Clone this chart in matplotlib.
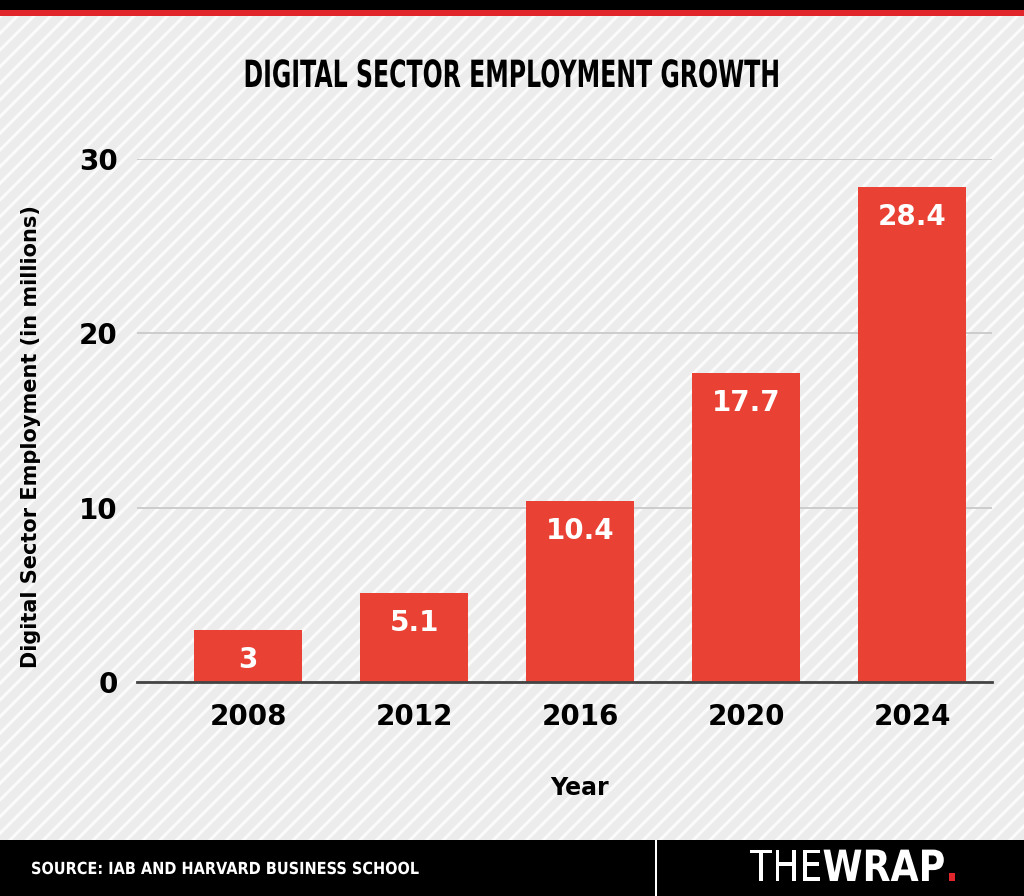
import matplotlib
matplotlib.use("Agg")
import matplotlib.pyplot as plt
from matplotlib.patches import Rectangle
from matplotlib.patheffects import AbstractPathEffect
from matplotlib.transforms import Affine2D

years = ["2008", "2012", "2016", "2020", "2024"]
employment = [3, 5.1, 10.4, 17.7, 28.4]
value_labels = ["3", "5.1", "10.4", "17.7", "28.4"]
y_ticks = [0, 10, 20, 30]

RED = "#e94235"
plt.rcParams["hatch.linewidth"] = 2.2
plt.rcParams["font.family"] = ["DejaVu Sans"]


class SqueezeX(AbstractPathEffect):
    """Narrow the glyphs horizontally around a pixel anchor (condensed look)."""

    def __init__(self, sx, cx):
        super().__init__()
        self.sx = sx
        self.cx = cx

    def draw_path(self, renderer, gc, tpath, affine, rgbFace=None):
        squeeze = Affine2D().translate(-self.cx, 0).scale(self.sx, 1).translate(self.cx, 0)
        renderer.draw_path(gc, tpath, affine + squeeze, rgbFace)


fig = plt.figure(figsize=(10.24, 8.96), dpi=100)
fig.patch.set_facecolor("#eeeeee")

# striped background
fig.add_artist(Rectangle((0, 0), 1, 1, transform=fig.transFigure,
                         facecolor="#ececec", edgecolor="#fbfbfb", hatch="//",
                         linewidth=0, zorder=0))
# top bars
fig.add_artist(Rectangle((0, 1 - 10 / 896), 1, 10 / 896, transform=fig.transFigure,
                         facecolor="black", linewidth=0, zorder=1))
fig.add_artist(Rectangle((0, 1 - 16 / 896), 1, 6 / 896, transform=fig.transFigure,
                         facecolor="#e0262b", linewidth=0, zorder=1))
# footer
fig.add_artist(Rectangle((0, 0), 1, 56 / 896, transform=fig.transFigure,
                         facecolor="black", linewidth=0, zorder=1))
fig.add_artist(Rectangle((655 / 1024, 0), 2 / 1024, 56 / 896, transform=fig.transFigure,
                         facecolor="white", linewidth=0, zorder=2))

fig.canvas.draw()

# title, condensed
title = fig.text(0.5, 1 - 77 / 896, "DIGITAL SECTOR EMPLOYMENT GROWTH", ha="center",
                 va="center", fontsize=27, fontweight="bold")
w = title.get_window_extent().width
title.set_path_effects([SqueezeX(537 / w, 512)])

src = fig.text(31 / 1024, 27 / 896, "SOURCE: IAB AND HARVARD BUSINESS SCHOOL", ha="left",
               va="center", fontsize=12, fontweight="bold", color="white", zorder=3)
w = src.get_window_extent().width
src.set_path_effects([SqueezeX(387 / w, 31)])

# logo
t1 = fig.text(750 / 1024, 27 / 896, "THE", ha="left", va="center", fontsize=31,
              fontweight="normal", color="white", zorder=3)
fig.canvas.draw()
t2 = fig.text(t1.get_window_extent().x1 / 1024, 27 / 896, "WRAP", ha="left", va="center",
              fontsize=31, fontweight="bold", color="white", zorder=3)
fig.canvas.draw()
t3 = fig.text(t2.get_window_extent().x1 / 1024, 27 / 896, ".", ha="left", va="center",
              fontsize=31, fontweight="bold", color="#e0262b", zorder=3)
fig.canvas.draw()
sx = 209 / (t3.get_window_extent().x1 - 750)
for t in (t1, t2, t3):
    t.set_path_effects([SqueezeX(sx, 750)])

ax = fig.add_axes([137 / 1024, 1 - 682 / 896, 855 / 1024, (682 - 159) / 896])
ax.set_facecolor("none")
x = range(len(years))
bars = ax.bar(x, employment, width=0.65, color=RED, zorder=3)
for rect, lab in zip(bars, value_labels):
    ax.annotate(lab, (rect.get_x() + rect.get_width() / 2, rect.get_height()),
                xytext=(0, -21.5), textcoords="offset points", ha="center", va="center",
                color="white", fontsize=20, fontweight="bold", zorder=4)

ax.set_xlim(-0.67, 4.48)
ax.set_ylim(0, 30)
ax.set_yticks(y_ticks)
ax.set_xticks(list(x))
ax.set_xticklabels(years)
ax.tick_params(axis="both", length=0, labelsize=20)
ax.tick_params(axis="y", pad=14)
ax.tick_params(axis="x", pad=15)
for lab in ax.get_xticklabels() + ax.get_yticklabels():
    lab.set_fontweight("bold")
ax.grid(axis="y", color="#cccccc", linewidth=1.4, zorder=1)
ax.grid(axis="x", visible=False)
for s in ["top", "right", "left"]:
    ax.spines[s].set_visible(False)
ax.spines["bottom"].set_color("#444444")
ax.spines["bottom"].set_linewidth(2)
ax.spines["bottom"].set_zorder(5)

ax.set_ylabel("Digital Sector Employment (in millions)", fontsize=15, fontweight="bold")
ax.yaxis.set_label_coords(-0.1125, 0.47)
ax.set_xlabel("Year", fontsize=17, fontweight="bold")
ax.xaxis.set_label_coords(0.518, -0.179)

fig.savefig("out.png", dpi=100, facecolor=fig.get_facecolor())
